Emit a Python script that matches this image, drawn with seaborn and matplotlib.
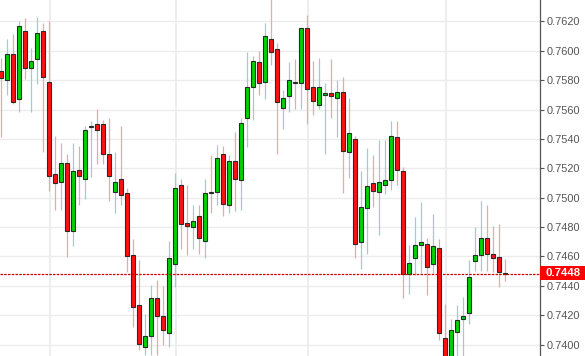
import numpy as np
import pandas as pd
import matplotlib
matplotlib.use("Agg")
import matplotlib.pyplot as plt
import seaborn as sns
from matplotlib.patches import Rectangle

# ---- data ----
opens = [0.75863, 0.75800, 0.75977, 0.75670, 0.76133, 0.75881, 0.75943, 0.76133, 0.75786, 0.75159,
         0.75105, 0.75234, 0.74775, 0.75187, 0.75125, 0.75482, 0.75500, 0.75500, 0.75296, 0.75037,
         0.75125, 0.75030, 0.74608, 0.74267, 0.73981, 0.74056, 0.74315, 0.74192, 0.74077, 0.74547,
         0.75085, 0.74826, 0.74799, 0.74873, 0.74703, 0.75037, 0.75037, 0.75296, 0.74948, 0.75248,
         0.75119, 0.75541, 0.75752, 0.75922, 0.75786, 0.76079, 0.76011, 0.75609, 0.75691, 0.75786,
         0.75779, 0.76154, 0.75752, 0.75629, 0.75697, 0.75711, 0.75677, 0.75718, 0.75309, 0.75398,
         0.74696, 0.74928, 0.75098, 0.75037, 0.75085, 0.75119, 0.75411, 0.75180, 0.74478, 0.74587,
         0.74676, 0.74683, 0.74547, 0.74655, 0.74043, 0.73910, 0.74083, 0.74172, 0.74213, 0.74567,
         0.74608, 0.74724, 0.74615, 0.74594, 0.74490]
highs = [0.75951, 0.76081, 0.76117, 0.76203, 0.76224, 0.76020, 0.76231, 0.76190, 0.76203, 0.75420,
         0.75373, 0.75298, 0.75373, 0.75352, 0.75488, 0.75522, 0.75604, 0.75529, 0.75545, 0.75311,
         0.75488, 0.75064, 0.74719, 0.74576, 0.74208, 0.74404, 0.74440, 0.74399, 0.74705, 0.75170,
         0.75125, 0.75087, 0.74952, 0.74952, 0.75125, 0.75291, 0.75359, 0.75352, 0.75291, 0.75447,
         0.75543, 0.75992, 0.75965, 0.75999, 0.76190, 0.76360, 0.76056, 0.75734, 0.75924, 0.75943,
         0.76163, 0.76244, 0.75929, 0.75949, 0.75779, 0.75943, 0.75800, 0.75820, 0.75677, 0.75418,
         0.75182, 0.75341, 0.75291, 0.75393, 0.75393, 0.75524, 0.75524, 0.75209, 0.74680, 0.74867,
         0.74971, 0.74724, 0.74889, 0.74717, 0.74274, 0.74174, 0.74269, 0.74324, 0.74576, 0.74799,
         0.74975, 0.74948, 0.74805, 0.74819, 0.74581]
lows = [0.75413, 0.75700, 0.75640, 0.75586, 0.75808, 0.75586, 0.75776, 0.75313, 0.75048, 0.74916,
        0.74916, 0.74598, 0.74671, 0.74952, 0.74993, 0.75143, 0.75230, 0.75230, 0.74980, 0.74894,
        0.74952, 0.74497, 0.74122, 0.73963, 0.73929, 0.73929, 0.73931, 0.73999, 0.73985, 0.74390,
        0.74652, 0.74612, 0.74652, 0.74619, 0.74591, 0.74898, 0.74952, 0.74877, 0.74898, 0.74912,
        0.74918, 0.75343, 0.75531, 0.75702, 0.75674, 0.75906, 0.75300, 0.75470, 0.75586, 0.75606,
        0.75606, 0.75504, 0.75565, 0.75606, 0.75300, 0.75545, 0.75415, 0.75034, 0.75132, 0.74591,
        0.74517, 0.74619, 0.74939, 0.74748, 0.75023, 0.75050, 0.75085, 0.74319, 0.74346, 0.74472,
        0.74485, 0.74339, 0.74485, 0.74031, 0.73880, 0.73880, 0.73910, 0.73910, 0.74138, 0.74499,
        0.74499, 0.74499, 0.74492, 0.74390, 0.74431]
closes = [0.75817, 0.75977, 0.75654, 0.76167, 0.75881, 0.75929, 0.76120, 0.75820, 0.75148, 0.75098,
          0.75234, 0.74775, 0.75180, 0.75146, 0.75459, 0.75486, 0.75459, 0.75296, 0.75146, 0.75105,
          0.75016, 0.74605, 0.74254, 0.74002, 0.74056, 0.74315, 0.74192, 0.74097, 0.74587, 0.75064,
          0.74819, 0.74805, 0.74839, 0.74724, 0.75030, 0.75032, 0.75268, 0.74955, 0.75248, 0.75125,
          0.75507, 0.75752, 0.75929, 0.75779, 0.76099, 0.75994, 0.75650, 0.75677, 0.75800, 0.75781,
          0.76154, 0.75738, 0.75657, 0.75752, 0.75711, 0.75691, 0.75718, 0.75316, 0.75439, 0.74683,
          0.74935, 0.75078, 0.75044, 0.75105, 0.75119, 0.75418, 0.75187, 0.74478, 0.74553, 0.74676,
          0.74696, 0.74526, 0.74669, 0.74077, 0.73900, 0.74097, 0.74165, 0.74192, 0.74458, 0.74608,
          0.74724, 0.74615, 0.74587, 0.74492, 0.74480]
last_price = 0.7448
tick_values = [0.7400, 0.7420, 0.7440, 0.7460, 0.7480, 0.7500, 0.7520, 0.7540, 0.7560, 0.7580, 0.7600, 0.7620]
vgrid_candles = [8, 29, 51, 74]

df = pd.DataFrame({"open": opens, "high": highs, "low": lows, "close": closes})
df["idx"] = np.arange(len(df))
df["up"] = df["close"] >= df["open"]
df["bottom"] = df[["open", "close"]].min(axis=1)
df["height"] = (df["close"] - df["open"]).abs()

sns.set_theme(style="white")
plt.rcParams["font.family"] = ["Liberation Sans", "DejaVu Sans"]

W, H = 585, 356
fig = plt.figure(figsize=(W / 100, H / 100), dpi=100)
ax = fig.add_axes([0, 0, 540 / W, 1])
ax.set_facecolor("white")

# grid
for t in tick_values:
    ax.axhline(t, color="#ececec", lw=1.0, zorder=0)
for g in vgrid_candles:
    ax.axvline(g + 0.15, color="#ececec", lw=1.3, zorder=0)

green, red = "#00D400", "#FF1010"
wick_up, wick_dn = "#a9c8c9", "#eba7ae"

ax.vlines(df["idx"], df["low"], df["high"],
          colors=np.where(df["up"], wick_up, wick_dn), lw=0.9, zorder=1)
ax.bar(df["idx"], df["height"], bottom=df["bottom"], width=0.64,
       color=np.where(df["up"], green, red).tolist(),
       edgecolor="#2a2a2a", linewidth=0.8, zorder=2)

# last price line
ax.axhline(last_price, color="#d00000", lw=0.9, ls=(0, (2, 1)), zorder=3)

ax.set_xlim(-0.217, 89.78)
ax.set_ylim(0.739217, 0.763464)

ax.yaxis.tick_right()
ax.set_yticks(tick_values)
ax.set_yticklabels([f"{t:.4f}" for t in tick_values])
ax.tick_params(axis="y", which="major", right=True, length=3, width=0.8,
               color="#555555", labelsize=7.9, labelcolor="#555555", pad=1.5)
ax.set_xticks([])
for s in ["top", "left", "bottom"]:
    ax.spines[s].set_visible(False)
ax.spines["right"].set_visible(True)
ax.spines["right"].set_color("#555555")
ax.spines["right"].set_linewidth(0.9)

# price label box
ylab = (H - 272.5) / H
fig.patches.append(Rectangle((540 / W, (H - 279.5) / H), 45 / W, 13.5 / H,
                             transform=fig.transFigure, facecolor="#ff0000",
                             edgecolor="none", zorder=5))
fig.text(546 / W, ylab, f"{last_price:.4f}", color="white", fontsize=8.2,
         fontweight="bold", va="center", ha="left", zorder=6)

fig.savefig("out.png", dpi=100)
